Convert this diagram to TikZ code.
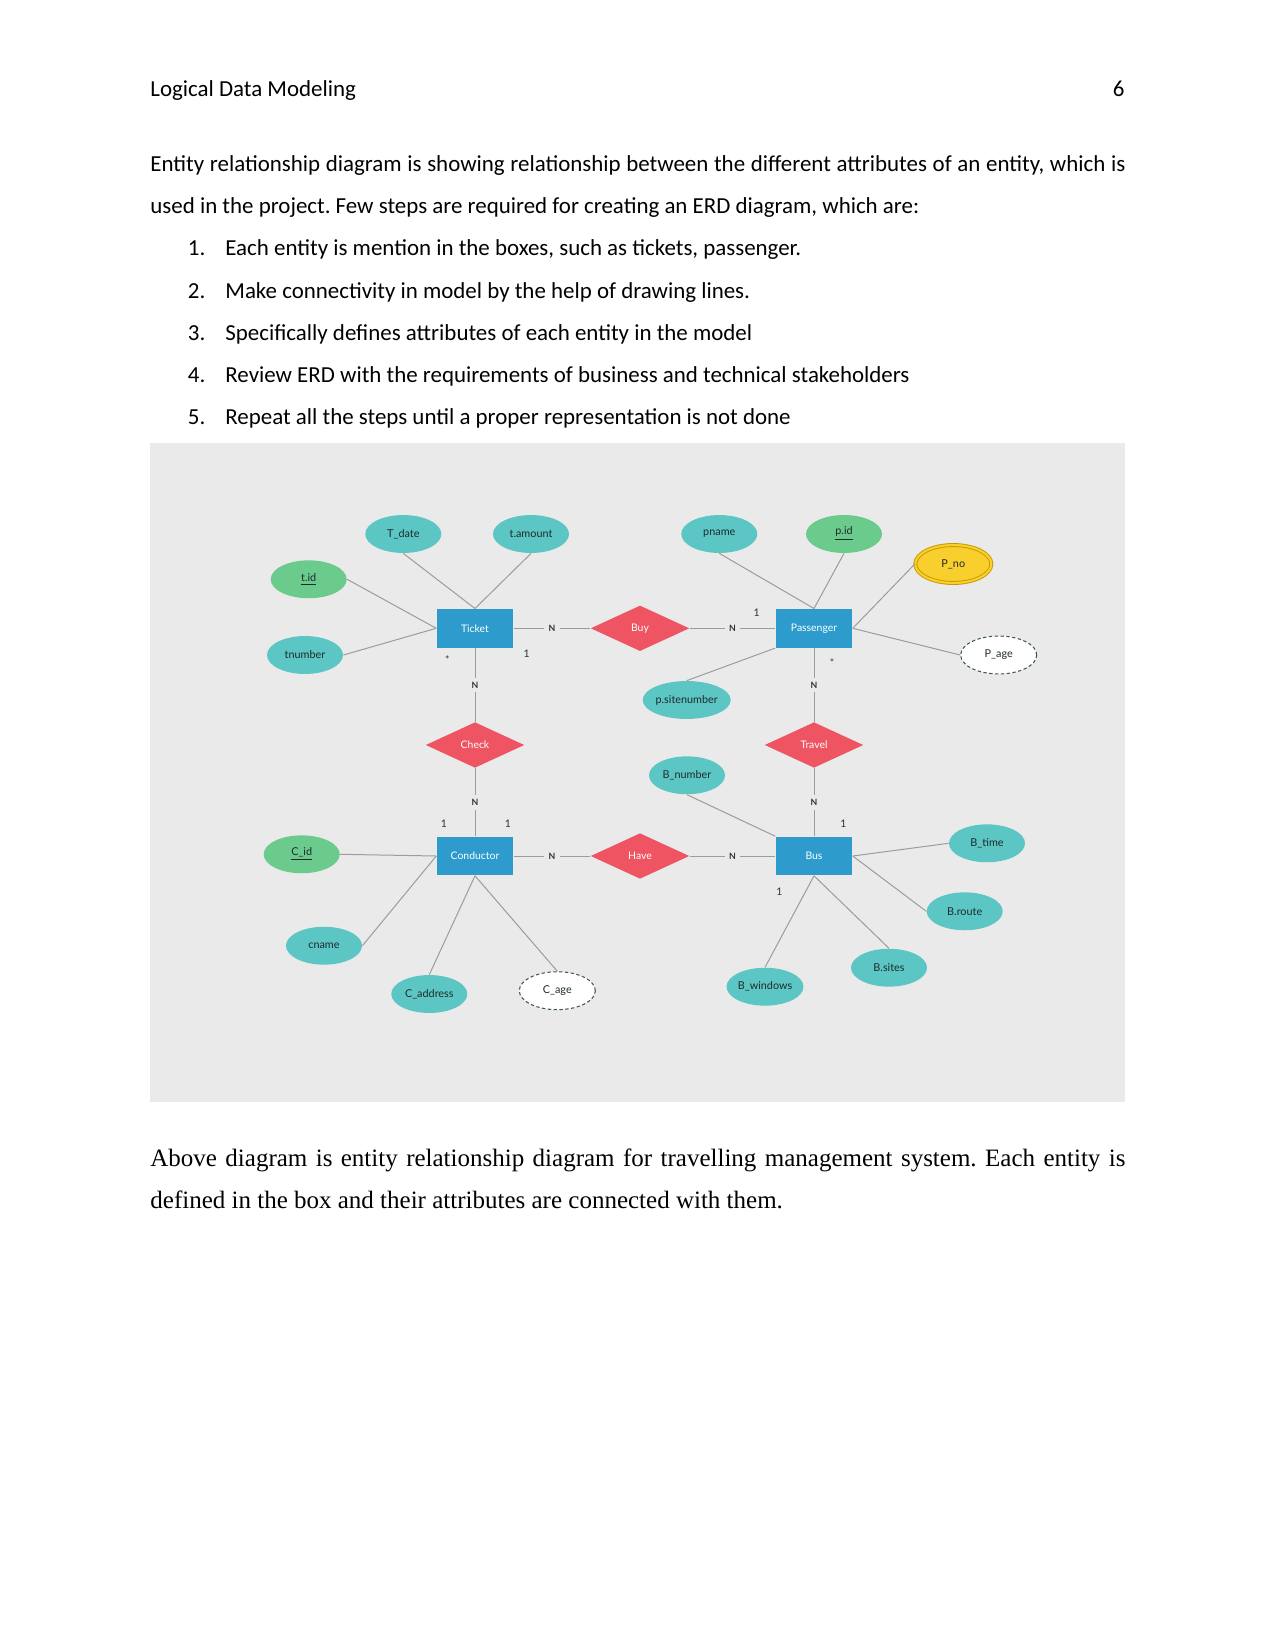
\documentclass[tikz,border=0pt]{standalone}
\usepackage{fontspec}
\setmainfont{Carlito}
\newfontfamily\timesfont{Liberation Serif}
\newfontfamily\erdfont{Lato}
\usetikzlibrary{shapes.geometric}
\frenchspacing

\definecolor{diagbg}{HTML}{EAEAEA}
\definecolor{attrteal}{HTML}{5CC6C4}
\definecolor{keygreen}{HTML}{6BCB8C}
\definecolor{entityblue}{HTML}{2D9BCB}
\definecolor{relred}{HTML}{EE5462}
\definecolor{multigold}{HTML}{F8CF2C}
\definecolor{multiedge}{HTML}{C99A00}
\definecolor{dashgray}{HTML}{3E5656}
\definecolor{linegray}{HTML}{9C9C9C}
\definecolor{attrtext}{HTML}{1E2B2B}
\definecolor{cardtext}{HTML}{333333}

\begin{document}
\begin{tikzpicture}[x=0.48pt, y=-0.48pt,
    body/.style={anchor=base west, inner sep=0pt, font=\fontsize{11}{13}\selectfont},
    attr/.style={ellipse, fill=attrteal, minimum width=36.5pt, minimum height=18.2pt, inner sep=0pt, text=attrtext, font=\erdfont\fontsize{5.2}{6}\selectfont},
    keyattr/.style={attr, fill=keygreen},
    derived/.style={attr, fill=white, draw=dashgray, line width=0.5pt, dash pattern=on 1.6pt off 1.2pt},
    multi/.style={attr, fill=multigold, draw=multiedge, line width=0.45pt, double=multigold, double distance=1pt},
    entity/.style={rectangle, fill=entityblue, minimum width=36.8pt, minimum height=18.6pt, inner sep=0pt, text=white, font=\erdfont\fontsize{5}{6}\selectfont},
    relation/.style={diamond, fill=relred, minimum width=47.4pt, minimum height=21.9pt, inner sep=0pt, text=white, font=\erdfont\fontsize{5}{6}\selectfont},
    link/.style={draw=linegray, line width=0.48pt},
    nlabel/.style={fill=diagbg, inner sep=2pt, text=cardtext, font=\erdfont\bfseries\fontsize{4.2}{5}\selectfont},
    card/.style={inner sep=0pt, text=cardtext, font=\erdfont\fontsize{5}{6}\selectfont}]

    % Page
    \useasboundingbox (0,0) rectangle (1275,1651);
    \fill[white] (0,0) rectangle (1275,1651);

    % Header
    \node[body] (header) at (150,96.7) {Logical Data Modeling};
    \node[body, anchor=base east] (pagenum) at (1125,96.7) {6};

    % Intro text and steps
    \node[body] (introa) at (150,172) {\makebox[468pt][s]{Entity relationship diagram is showing relationship between the different attributes of an entity, which is}};
    \node[body] (introb) at (150,214) {used in the project. Few steps are required for creating an ERD diagram, which are:};
    \node[body] (num1) at (187.5,256) {1.};
    \node[body] (step1) at (225,256) {Each entity is mention in the boxes, such as tickets, passenger.};
    \node[body] (num2) at (187.5,298) {2.};
    \node[body] (step2) at (225,298) {Make connectivity in model by the help of drawing lines.};
    \node[body] (num3) at (187.5,340) {3.};
    \node[body] (step3) at (225,340) {Specifically defines attributes of each entity in the model};
    \node[body] (num4) at (187.5,382) {4.};
    \node[body] (step4) at (225,382) {Review ERD with the requirements of business and technical stakeholders};
    \node[body] (num5) at (187.5,424) {5.};
    \node[body] (step5) at (225,424) {Repeat all the steps until a proper representation is not done};

    % Diagram background
    \fill[diagbg] (150,443) rectangle (1125,1102);

    % Ticket and its attributes
    \node[entity] (ticket) at (475,628.3) {Ticket};
    \node[attr] (tdate) at (403.3,534) {T\_date};
    \node[attr] (tamount) at (531,534) {t.amount};
    \node[keyattr] (tid) at (308.7,579.3) {\underline{t.id}};
    \node[attr] (tnumber) at (305,655) {tnumber};

    % Passenger and its attributes
    \node[entity] (passenger) at (814,628.3) {Passenger};
    \node[attr] (pname) at (719.3,534) {pname};
    \node[keyattr] (pid) at (844,534) {\underline{p.id}};
    \node[multi] (pno) at (953.3,564) {P\_no};
    \node[derived] (pAge) at (998.7,655) {P\_age};
    \node[attr] (psite) at (686.7,700) {p.sitenumber};

    % Conductor and its attributes
    \node[entity] (conductor) at (475,856) {Conductor};
    \node[keyattr] (cid) at (301.7,854.3) {\underline{C\_id}};
    \node[attr] (cname) at (324,945.7) {cname};
    \node[attr] (caddress) at (429.3,994) {C\_address};
    \node[derived] (cAge) at (557.3,990.7) {C\_age};

    % Bus and its attributes
    \node[entity] (bus) at (814,856) {Bus};
    \node[attr] (bnumber) at (687,775.3) {B\_number};
    \node[attr] (btime) at (987,843.3) {B\_time};
    \node[attr] (broute) at (964.7,911.3) {B.route};
    \node[attr] (bsites) at (889,967.7) {B.sites};
    \node[attr] (bwindows) at (765,986.7) {B\_windows};

    % Relationships
    \node[relation] (buy) at (640,628.3) {Buy};
    \node[relation] (check) at (475,745) {Check};
    \node[relation] (travel) at (814,745) {Travel};
    \node[relation] (have) at (640,856) {Have};

    % Cardinalities
    \node[card] (starT) at (447.3,660) {*};
    \node[card] (oneT) at (526.7,654) {1};
    \node[card] (oneP) at (756.7,612.7) {1};
    \node[card] (starP) at (832,663) {*};
    \node[card] (oneCa) at (444,823.3) {1};
    \node[card] (oneCb) at (508,823.3) {1};
    \node[card] (oneBa) at (843.3,823.7) {1};
    \node[card] (oneBb) at (779.3,891.7) {1};

    % Attribute links
    \draw[link] (tdate.south) -- (ticket.north);
    \draw[link] (tamount.south) -- (ticket.north);
    \draw[link] (tid.east) -- (ticket.west);
    \draw[link] (tnumber.east) -- (ticket.west);
    \draw[link] (pname.south) -- (passenger.north);
    \draw[link] (pid.south) -- (passenger.north);
    \draw[link] (pno.west) -- (passenger.east);
    \draw[link] (pAge.west) -- (passenger.east);
    \draw[link] (psite.north) -- (passenger.south west);
    \draw[link] (cid.east) -- (conductor.west);
    \draw[link] (cname.east) -- (conductor.west);
    \draw[link] (caddress.north) -- (conductor.south);
    \draw[link] (cAge.north) -- (conductor.south);
    \draw[link] (bnumber.south) -- (bus.north west);
    \draw[link] (btime.west) -- (bus.east);
    \draw[link] (broute.west) -- (bus.east);
    \draw[link] (bsites.north) -- (bus.south);
    \draw[link] (bwindows.north) -- (bus.south);

    % Relationship links
    \draw[link] (ticket) -- node[nlabel] (nTicketBuy) {N} (buy);
    \draw[link] (buy) -- node[nlabel] (nBuyPass) {N} (passenger);
    \draw[link] (ticket) -- node[nlabel] (nTicketCheck) {N} (check);
    \draw[link] (check) -- node[nlabel] (nCheckCond) {N} (conductor);
    \draw[link] (passenger) -- node[nlabel] (nPassTravel) {N} (travel);
    \draw[link] (travel) -- node[nlabel] (nTravelBus) {N} (bus);
    \draw[link] (conductor) -- node[nlabel] (nCondHave) {N} (have);
    \draw[link] (have) -- node[nlabel] (nHaveBus) {N} (bus);

    % Closing text
    \node[body, font=\timesfont\fontsize{12}{14}\selectfont] (closea) at (150,1166) {\makebox[468pt][s]{Above diagram is entity relationship diagram for travelling management system. Each entity is}};
    \node[body, font=\timesfont\fontsize{12}{14}\selectfont] (closeb) at (150,1208) {defined in the box and their attributes are connected with them.};
\end{tikzpicture}
\end{document}
